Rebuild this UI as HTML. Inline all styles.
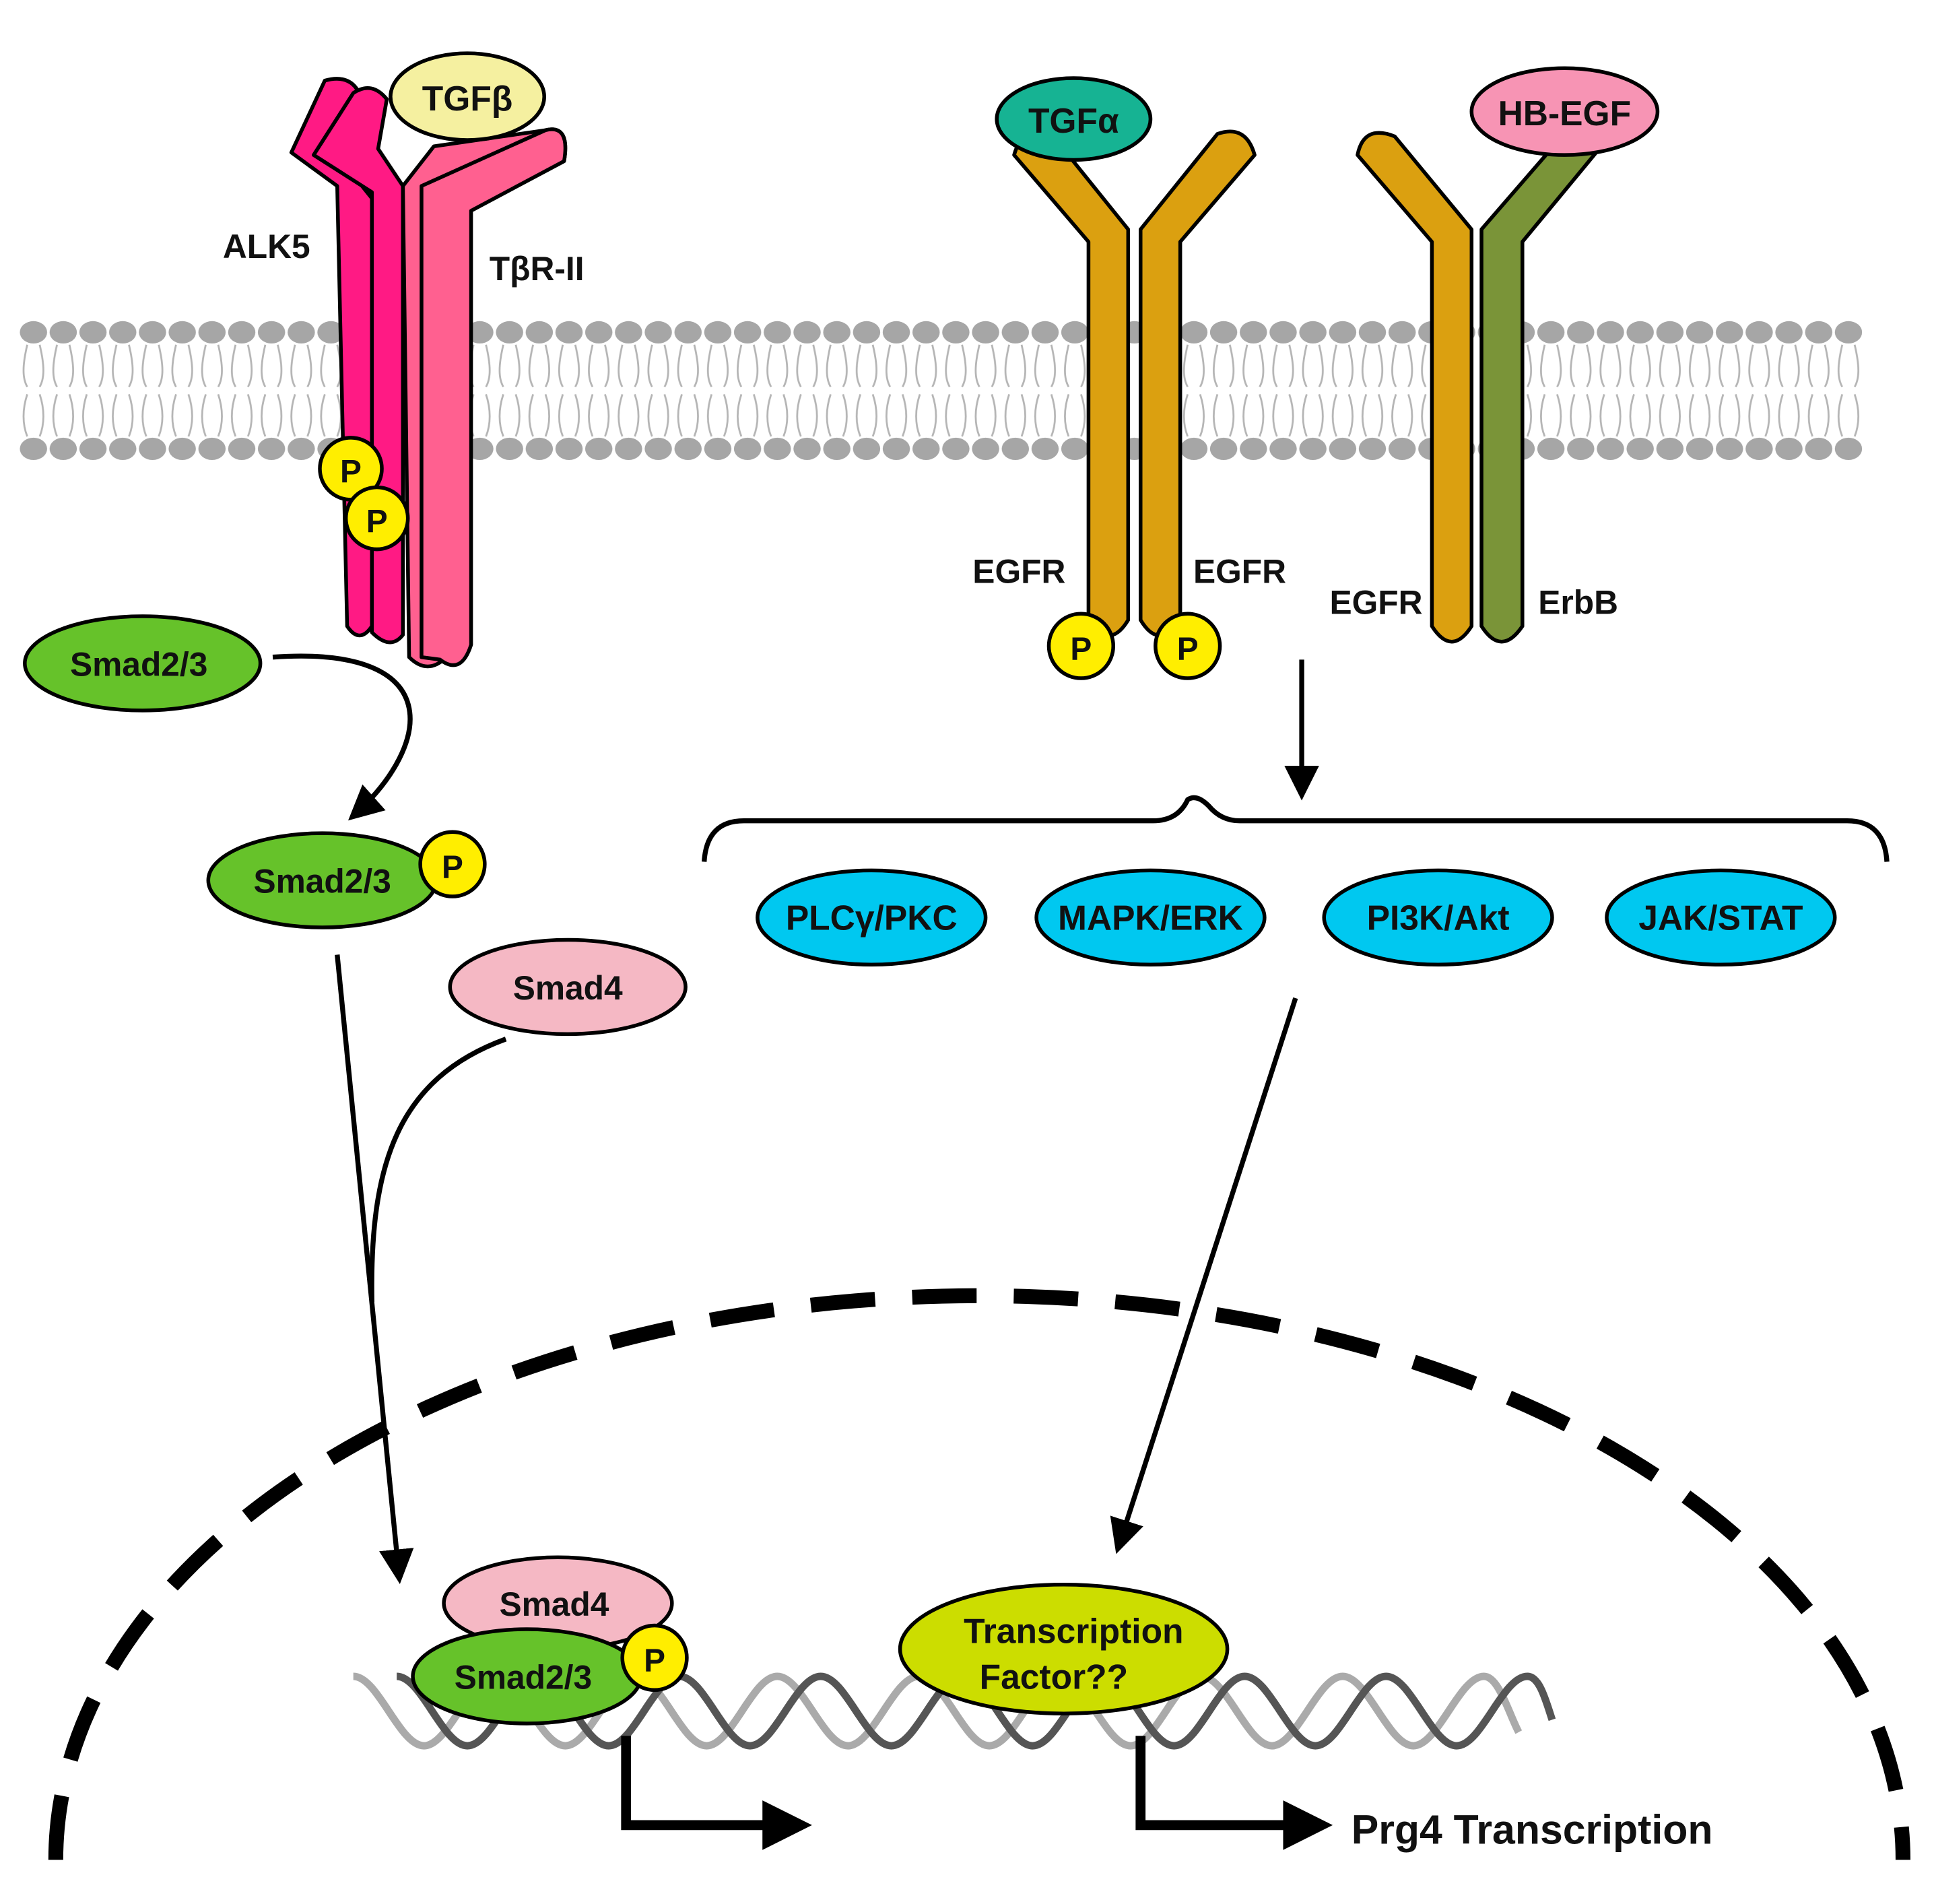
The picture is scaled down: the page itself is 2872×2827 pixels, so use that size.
<!DOCTYPE html>
<html><head><meta charset="utf-8"><style>html,body{margin:0;padding:0;background:#fff}svg{display:block}text{font-family:"Liberation Sans",sans-serif;font-weight:bold;fill:#111}</style></head>
<body>
<svg width="2872" height="2827" viewBox="0 0 1560 1535.6" preserveAspectRatio="none" xmlns="http://www.w3.org/2000/svg">
<defs>
<marker id="ah" viewBox="0 0 10 10" refX="8" refY="5" markerWidth="7" markerHeight="7" orient="auto"><path d="M0,0 L10,5 L0,10 z" fill="#000"/></marker>
<pattern id="lip" x="15" y="0" width="24" height="1535.6" patternUnits="userSpaceOnUse">
<ellipse cx="12" cy="268" rx="11" ry="9" fill="#a6a6a6"/>
<ellipse cx="12" cy="362" rx="11" ry="9" fill="#a6a6a6"/>
<path d="M7,278 C3,295 3,305 7,312 M17,278 C21,295 21,305 17,312 M7,318 C3,330 3,342 7,352 M17,318 C21,330 21,342 17,352" stroke="#b5b5b5" stroke-width="1.5" fill="none"/>
</pattern>
</defs>
<rect x="15" y="255" width="1487" height="120" fill="url(#lip)"/>

<g stroke="#000" stroke-width="3" stroke-linejoin="round">
<path d="M235,123 L262,65 Q280,60 288,72 L268,120 L300,160 L300,505 Q290,520 280,505 L272,150 Z" fill="#ff1a84"/>
<path d="M253,125 L285,75 Q300,65 312,80 L305,120 L325,150 L325,512 Q315,525 300,510 L300,155 Z" fill="#ff1a84"/>
<path d="M325,150 L350,118 L440,105 Q460,100 455,130 L370,175 L360,530 Q345,545 330,530 Z" fill="#ff6090"/>
<path d="M340,150 L440,105 Q460,100 455,130 L380,170 L380,520 Q372,545 355,532 L340,530 Z" fill="#ff6090"/>
</g>
<ellipse cx="377" cy="78" rx="62" ry="35" fill="#f5f0a0" stroke="#000" stroke-width="3"/>
<text x="377" y="89" font-size="28" text-anchor="middle">TGFβ</text>
<text x="215" y="208" font-size="27" text-anchor="middle">ALK5</text>
<text x="433" y="226" font-size="27" text-anchor="middle">TβR-II</text>
<g stroke="#000" stroke-width="3" fill="#ffee00"><circle cx="283" cy="378" r="25"/><circle cx="304" cy="418" r="25"/></g>
<text x="283" y="389" font-size="26" text-anchor="middle">P</text><text x="304" y="429" font-size="26" text-anchor="middle">P</text>

<g stroke="#000" stroke-width="3" stroke-linejoin="round">
<path d="M818,125 Q825,100 848,108 L910,185 L910,500 Q895,525 878,500 L878,195 Z" fill="#dba010"/>
<path d="M1012,125 Q1005,100 982,108 L920,185 L920,500 Q935,525 952,500 L952,195 Z" fill="#dba010"/>
<path d="M1095,125 Q1100,100 1125,110 L1187,185 L1187,505 Q1171,530 1155,505 L1155,195 Z" fill="#dba010"/>
<path d="M1290,120 Q1285,100 1260,110 L1195,185 L1195,505 Q1211,530 1228,505 L1228,195 Z" fill="#7a9438"/>
</g>
<ellipse cx="866" cy="96" rx="62" ry="33" fill="#16b393" stroke="#000" stroke-width="3"/>
<text x="866" y="107" font-size="28" text-anchor="middle">TGFα</text>
<ellipse cx="1262" cy="90" rx="75" ry="35" fill="#f794b4" stroke="#000" stroke-width="3"/>
<text x="1262" y="101" font-size="28" text-anchor="middle">HB-EGF</text>
<g stroke="#000" stroke-width="3" fill="#ffee00"><circle cx="872" cy="521" r="26"/><circle cx="958" cy="521" r="26"/></g>
<text x="872" y="532" font-size="26" text-anchor="middle">P</text><text x="958" y="532" font-size="26" text-anchor="middle">P</text>
<g font-size="27" text-anchor="middle"><text x="822" y="470">EGFR</text><text x="1000" y="470">EGFR</text><text x="1110" y="495">EGFR</text><text x="1273" y="495">ErbB</text></g>

<ellipse cx="115" cy="535" rx="95" ry="38" fill="#66c22a" stroke="#000" stroke-width="3"/>
<text x="112" y="545" font-size="27" text-anchor="middle">Smad2/3</text>
<path d="M220,530 C360,520 350,600 285,658" stroke="#000" stroke-width="4" fill="none" marker-end="url(#ah)"/>
<ellipse cx="260" cy="710" rx="92" ry="38" fill="#66c22a" stroke="#000" stroke-width="3"/>
<text x="260" y="720" font-size="27" text-anchor="middle">Smad2/3</text>
<circle cx="365" cy="697" r="26" fill="#ffee00" stroke="#000" stroke-width="3"/><text x="365" y="708" font-size="26" text-anchor="middle">P</text>
<ellipse cx="458" cy="796" rx="95" ry="38" fill="#f5b8c4" stroke="#000" stroke-width="3"/>
<text x="458" y="806" font-size="27" text-anchor="middle">Smad4</text>
<path d="M272,770 L322,1272" stroke="#000" stroke-width="4" fill="none" marker-end="url(#ah)"/>
<path d="M408,838 C320,870 298,940 300,1050" stroke="#000" stroke-width="4" fill="none"/>

<path d="M1050,532 L1050,640" stroke="#000" stroke-width="4" marker-end="url(#ah)"/>
<path d="M568,695 Q570,662 600,662 L930,662 Q950,662 958,645 Q965,640 975,650 Q985,662 1000,662 L1490,662 Q1520,662 1522,695" stroke="#000" stroke-width="4" fill="none"/>
<g fill="#00c8f0" stroke="#000" stroke-width="3">
<ellipse cx="703" cy="740" rx="92" ry="38"/><ellipse cx="928" cy="740" rx="92" ry="38"/><ellipse cx="1160" cy="740" rx="92" ry="38"/><ellipse cx="1388" cy="740" rx="92" ry="38"/></g>
<g font-size="28" text-anchor="middle"><text x="703" y="750">PLCγ/PKC</text><text x="928" y="750">MAPK/ERK</text><text x="1160" y="750">PI3K/Akt</text><text x="1388" y="750">JAK/STAT</text></g>
<path d="M1045,805 L902,1248" stroke="#000" stroke-width="4" marker-end="url(#ah)"/>

<path d="M45,1500 A745,455 0 0 1 1535,1500" stroke="#000" stroke-width="12" fill="none" stroke-dasharray="52 30"/>

<path d="M285,1352 c20,0 37,56 57,56 c20,0 37,-56 57,-56 c20,0 37,56 57,56 c20,0 37,-56 57,-56 c20,0 37,56 57,56 c20,0 37,-56 57,-56 c20,0 37,56 57,56 c20,0 37,-56 57,-56 c20,0 37,56 57,56 c20,0 37,-56 57,-56 c20,0 37,56 57,56 c20,0 37,-56 57,-56 c20,0 37,56 57,56 c20,0 37,-56 57,-56 c20,0 37,56 57,56 c20,0 37,-56 57,-56 c12,0 20,30 28,45" stroke="#aaa" stroke-width="6" fill="none"/>
<path d="M320,1352 c20,0 37,56 57,56 c20,0 37,-56 57,-56 c20,0 37,56 57,56 c20,0 37,-56 57,-56 c20,0 37,56 57,56 c20,0 37,-56 57,-56 c20,0 37,56 57,56 c20,0 37,-56 57,-56 c20,0 37,56 57,56 c20,0 37,-56 57,-56 c20,0 37,56 57,56 c20,0 37,-56 57,-56 c20,0 37,56 57,56 c20,0 37,-56 57,-56 c20,0 37,56 57,56 c20,0 37,-56 57,-56 c10,0 15,20 20,35" stroke="#555" stroke-width="6" fill="none"/>

<ellipse cx="450" cy="1293" rx="92" ry="37" fill="#f5b8c4" stroke="#000" stroke-width="3"/>
<text x="447" y="1303" font-size="27" text-anchor="middle">Smad4</text>
<ellipse cx="425" cy="1352" rx="92" ry="38" fill="#66c22a" stroke="#000" stroke-width="3"/>
<text x="422" y="1362" font-size="27" text-anchor="middle">Smad2/3</text>
<circle cx="528" cy="1337" r="26" fill="#ffee00" stroke="#000" stroke-width="3"/><text x="528" y="1348" font-size="26" text-anchor="middle">P</text>
<ellipse cx="858" cy="1330" rx="132" ry="52" fill="#ccdd00" stroke="#000" stroke-width="3"/>
<text x="866" y="1325" font-size="28" text-anchor="middle">Transcription</text>
<text x="850" y="1362" font-size="28" text-anchor="middle">Factor??</text>

<path d="M505,1400 L505,1472 L620,1472" stroke="#000" stroke-width="8" fill="none"/>
<path d="M615,1452 L655,1472 L615,1492 Z" fill="#000"/>
<path d="M920,1400 L920,1472 L1040,1472" stroke="#000" stroke-width="8" fill="none"/>
<path d="M1035,1452 L1075,1472 L1035,1492 Z" fill="#000"/>
<text x="1090" y="1487" font-size="33">Prg4 Transcription</text>
</svg>
</body></html>
